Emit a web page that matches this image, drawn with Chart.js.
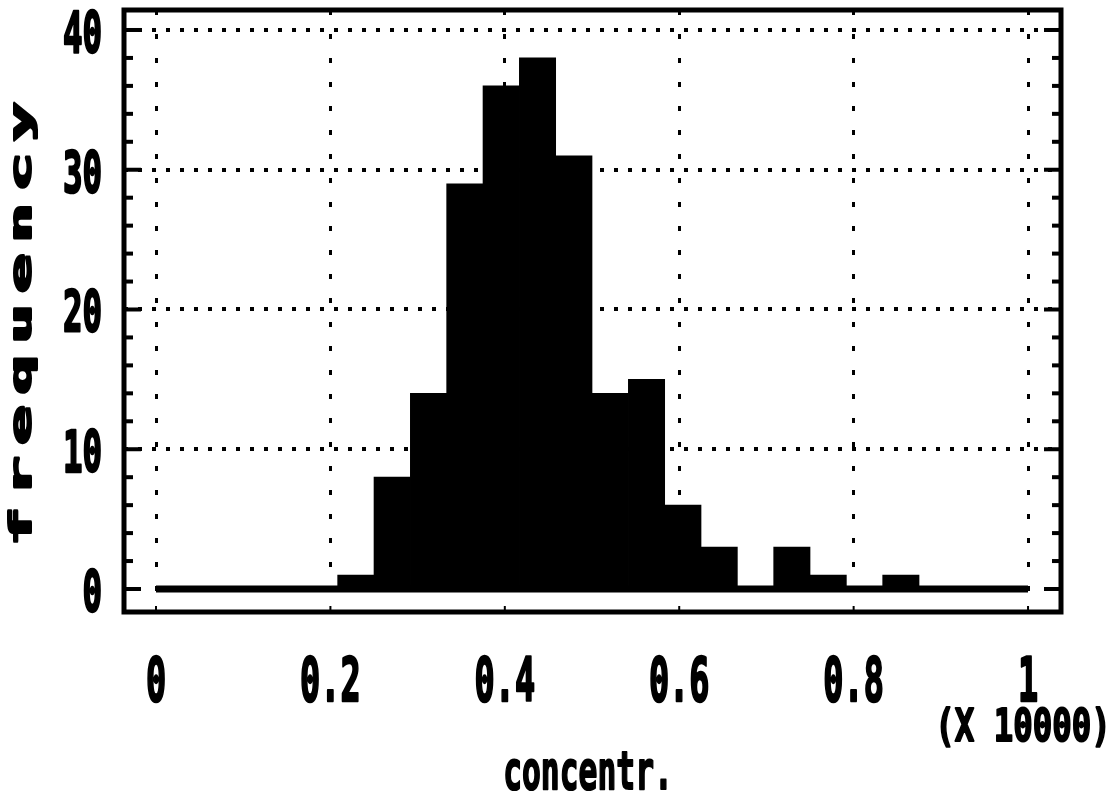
<!DOCTYPE html>
<html>
<head>
<meta charset="utf-8">
<script src="https://cdn.jsdelivr.net/npm/chart.js@4.4.1/dist/chart.umd.min.js"></script>
<style>
html,body{margin:0;padding:0;background:#fff}
#wrap{width:1120px;height:791px;position:relative}
</style>
</head>
<body>
<div id="wrap"><canvas id="chart"></canvas></div>
<script>
// ─── Data (histogram, 24 classes over 0..1 x 10000) ───
const binStart = 0, binWidth = 1/24;
const counts = [0,0,0,0,0,1,8,14,29,36,38,31,14,15,6,3,0,3,1,0,1,0,0,0];
const xTicks = [0,0.2,0.4,0.6,0.8,1];
const xTickLabels = ['0','0.2','0.4','0.6','0.8','1'];
const yTicks = [0,10,20,30,40];
const yTickLabels = ['0','10','20','30','40'];
const xTitle = 'concentr.', yTitle = 'frequency', xMult = '(X 10000)';

const FONT = "'DejaVu Sans Mono', monospace";

// draw text squeezed/stretched horizontally (old plotter look)
function squeezed(ctx, txt, x, base, size, sx, align, heavy){
    ctx.save();
    ctx.font = `bold ${size}px ${FONT}`;
    ctx.textAlign = 'left';
    ctx.textBaseline = 'alphabetic';
    const w = ctx.measureText(txt).width * sx;
    const left = align==='center' ? x - w/2 : align==='right' ? x - w : x;
    ctx.translate(left, base);
    ctx.scale(sx, 1);
    ctx.fillText(txt, 0, 0);
    ctx.lineWidth = heavy;
    ctx.lineJoin = 'round';
    ctx.strokeText(txt, 0, 0);
    ctx.restore();
}

// ─── Frame, side ticks and labels ───
const decor = {
    id:'decor',
    afterDraw(chart){
        const {ctx, chartArea:a, scales:{x, y}} = chart;
        ctx.save();
        ctx.fillStyle = '#000';
        ctx.strokeStyle = '#000';
        ctx.lineWidth = 5;
        ctx.strokeRect(a.left, a.top, a.right - a.left, a.bottom - a.top);

        for (let v = yTicks[0]; v <= yTicks[yTicks.length-1]; v += 2){
            const py = y.getPixelForValue(v);
            const len = v % 10 === 0 ? 17 : 9;
            ctx.fillRect(a.left, py - 2, len, 4);
            ctx.fillRect(a.right - len, py - 2, len, 4);
        }
        xTicks.forEach(v => {
            const px = x.getPixelForValue(v);
            ctx.fillRect(px - 1, a.bottom - 6, 2, 6);
        });

        yTicks.forEach((v, i) => {
            squeezed(ctx, yTickLabels[i], a.left - 22, y.getPixelForValue(v) + 23, 57, 0.57, 'right', 2.5);
        });
        xTicks.forEach((v, i) => {
            squeezed(ctx, xTickLabels[i], x.getPixelForValue(v), 701, 61, 0.55, 'center', 2.5);
        });
        squeezed(ctx, xMult, 1023, 741, 45, 0.72, 'center', 2);
        squeezed(ctx, xTitle, 588, 789, 54, 0.58, 'center', 2);

        // y title: rotated, wide letters, widely spaced
        ctx.translate(31, 324);
        ctx.rotate(-Math.PI/2);
        ctx.font = `bold 30px ${FONT}`;
        ctx.textAlign = 'center';
        ctx.textBaseline = 'alphabetic';
        ctx.lineWidth = 2;
        ctx.lineJoin = 'round';
        const step = 50.6, n = yTitle.length;
        for (let i = 0; i < n; i++){
            ctx.save();
            ctx.translate((i - (n-1)/2) * step, 0);
            ctx.scale(2.2, 1);
            ctx.fillText(yTitle[i], 0, 0);
            ctx.strokeText(yTitle[i], 0, 0);
            ctx.restore();
        }
        ctx.restore();
    }
};

const ctx = document.getElementById('chart').getContext('2d');
new Chart(ctx, {
    type:'bar',
    data:{datasets:[
        {type:'line', data:[{x:xTicks[0], y:0}, {x:xTicks[xTicks.length-1], y:0}],
            borderColor:'#000', borderWidth:7, pointRadius:0, order:0},
        {data:counts.map((c, i) => ({x:binStart + (i + 0.5) * binWidth, y:c})),
            backgroundColor:'#000', borderWidth:0, barPercentage:1, categoryPercentage:1, order:1}
    ]},
    options:{
        responsive:true, maintainAspectRatio:false, animation:false,
        layout:{padding:{left:124, top:10, right:59, bottom:179}},
        plugins:{legend:{display:false}, tooltip:{enabled:false}},
        scales:{
            x:{type:'linear', min:-0.0367, max:1.0378, offset:false,
                afterBuildTicks:s => { s.ticks = xTicks.map(v => ({value:v})); },
                ticks:{display:false},
                grid:{color:'#000', lineWidth:3, drawTicks:false, offset:false},
                border:{display:false, dash:[5,19]}},
            y:{type:'linear', min:-1.646, max:41.43,
                afterBuildTicks:s => { s.ticks = yTicks.map(v => ({value:v})); },
                ticks:{display:false},
                grid:{color:c => (c.tick && c.tick.value === 0) ? 'rgba(0,0,0,0)' : '#000', lineWidth:4, drawTicks:false},
                border:{display:false, dash:[4,10]}}
        }
    },
    plugins:[decor]
});
</script>
</body>
</html>
